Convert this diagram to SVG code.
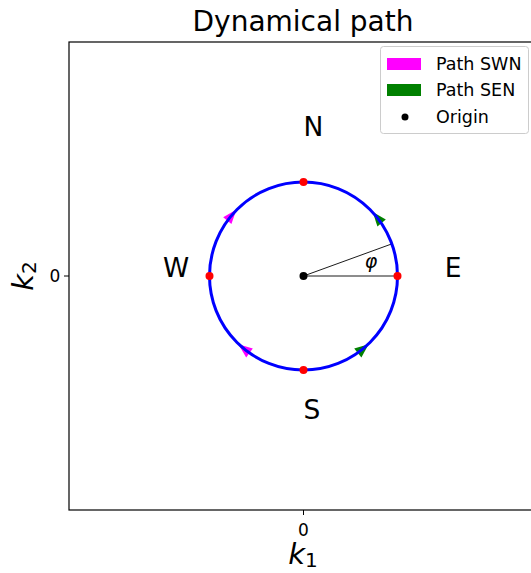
<svg xmlns="http://www.w3.org/2000/svg" width="531" height="573" viewBox="0 0 531 573">
<style>
text{font-family:"DejaVu Sans",sans-serif;fill:#000}
.lbl{font-size:26.5px;text-anchor:middle}
.tick{font-size:17px;text-anchor:middle}
.leg{font-size:17.5px}
.red{fill:#ff0000}
</style>
<rect width="531" height="573" fill="#fff"/>
<g id="axes">
<rect x="69" y="42" width="469" height="468" fill="none" stroke="#000" stroke-width="1.2"/>
<line x1="303.5" y1="510" x2="303.5" y2="515" stroke="#000"/>
<line x1="64" y1="276" x2="69" y2="276" stroke="#000"/>
<text class="tick" x="303.5" y="536">0</text>
<text class="tick" x="55" y="282">0</text>
<text x="303" y="564" style="font-size:29px;font-style:italic;text-anchor:middle">k<tspan style="font-style:normal;font-size:20px" dy="3">1</tspan></text>
<text transform="translate(33,276) rotate(-90)" style="font-size:29px;font-style:italic;text-anchor:middle">k<tspan style="font-style:normal;font-size:20px" dy="3">2</tspan></text>
<text x="303" y="31" style="font-size:28px;text-anchor:middle">Dynamical path</text>
</g>
<g id="arrows">
<polygon id="swn-upper" points="236.5,209.6 231.4,224.0 223.2,217.2" fill="#ff00ff"/>
<polygon id="swn-lower" points="238.4,344.2 252.8,348.6 246.2,357.4" fill="#ff00ff"/>
<polygon id="sen-upper" points="372.8,212.0 385.8,219.6 377.4,226.5" fill="#008000"/>
<polygon id="sen-lower" points="368.6,344.2 361.4,357.4 354.2,348.6" fill="#008000"/>
</g>
<g id="angle">
<line x1="303.5" y1="276" x2="391.8" y2="243.9" stroke="#000" stroke-width="0.9"/>
<line x1="303.5" y1="276" x2="397.5" y2="276" stroke="#000" stroke-width="0.9"/>
<text x="371" y="268" style="font-size:19px;font-style:italic;text-anchor:middle">φ</text>
</g>
<g id="path-circle">
<circle cx="303.5" cy="276" r="94" fill="none" stroke="#0000ff" stroke-width="3"/>
</g>
<g id="points">
<circle class="red" cx="303.5" cy="182" r="4"/>
<circle class="red" cx="303.5" cy="370" r="4"/>
<circle class="red" cx="209.5" cy="276" r="4"/>
<circle class="red" cx="397.5" cy="276" r="4"/>
<circle id="origin" cx="303.5" cy="276" r="4" fill="#000"/>
</g>
<g id="labels">
<text class="lbl" x="313.5" y="136">N</text>
<text class="lbl" x="312" y="419">S</text>
<text class="lbl" x="176" y="277">W</text>
<text class="lbl" x="453" y="277">E</text>
</g>
<g id="legend">
<rect x="380.5" y="46.5" width="148" height="87" rx="3" fill="#fff" fill-opacity="0.8" stroke="#cccccc"/>
<rect x="387" y="58" width="34" height="12" fill="#ff00ff"/>
<text class="leg" x="436" y="70">Path SWN</text>
<rect x="387" y="84" width="34" height="12" fill="#008000"/>
<text class="leg" x="436" y="96">Path SEN</text>
<circle cx="405" cy="117" r="3.5" fill="#000"/>
<text class="leg" x="436" y="123">Origin</text>
</g>
</svg>
